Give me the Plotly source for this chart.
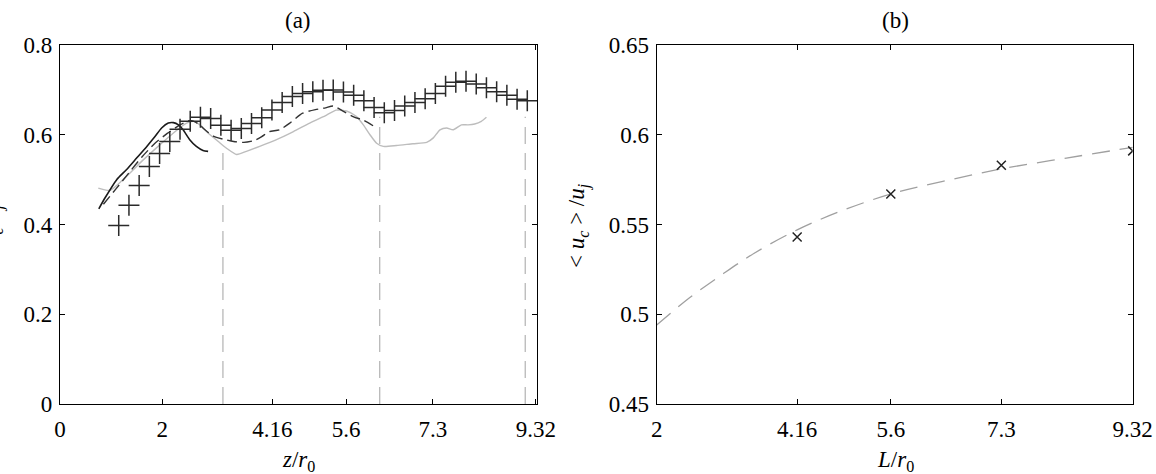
import plotly.graph_objects as go

# ---------------- data: panel (a) ----------------
plus_z = [1.15, 1.35, 1.55, 1.75, 1.95, 2.15, 2.35, 2.55, 2.75, 2.95, 3.15, 3.35, 3.55, 3.75,
          3.95, 4.15, 4.35, 4.55, 4.75, 4.95, 5.15, 5.35, 5.55, 5.75, 5.95, 6.15, 6.35, 6.55,
          6.75, 6.95, 7.15, 7.35, 7.55, 7.75, 7.95, 8.15, 8.35, 8.55, 8.75, 8.95, 9.15]
plus_u = [0.398, 0.443, 0.487, 0.529, 0.558, 0.585, 0.612, 0.630, 0.639, 0.636, 0.621, 0.610,
          0.614, 0.625, 0.638, 0.655, 0.672, 0.685, 0.692, 0.696, 0.699, 0.700, 0.695, 0.688,
          0.676, 0.661, 0.649, 0.654, 0.664, 0.672, 0.680, 0.692, 0.708, 0.717, 0.719, 0.713,
          0.705, 0.696, 0.688, 0.679, 0.676]

solid_z = [0.76, 0.88, 1.11, 1.30, 1.50, 1.70, 1.86, 1.99, 2.12, 2.22, 2.32, 2.41, 2.54, 2.67, 2.80, 2.90]
solid_u = [0.435, 0.459, 0.500, 0.522, 0.548, 0.574, 0.596, 0.615, 0.626, 0.627, 0.622, 0.611,
           0.589, 0.574, 0.565, 0.563]

dash_z = [0.85, 1.10, 1.35, 1.60, 1.85, 2.10, 2.35, 2.55, 2.70, 2.85, 3.00, 3.20, 3.40, 3.60,
          3.80, 3.95, 4.10, 4.30, 4.50, 4.75, 5.00, 5.20, 5.35, 5.55, 5.75, 5.95, 6.13]
dash_u = [0.445, 0.480, 0.515, 0.550, 0.580, 0.603, 0.622, 0.632, 0.625, 0.610, 0.597, 0.590,
          0.585, 0.583, 0.587, 0.596, 0.607, 0.611, 0.626, 0.648, 0.656, 0.660, 0.664, 0.652,
          0.640, 0.632, 0.620]

gray_z = [0.75, 0.98, 1.30, 1.63, 1.96, 2.22, 2.48, 2.61, 2.74, 2.90, 3.10, 3.26, 3.46, 3.65,
          3.91, 4.24, 4.57, 4.89, 5.22, 5.41, 5.61, 5.80, 5.94, 6.07, 6.20, 6.33, 6.59, 6.91,
          7.18, 7.31, 7.44, 7.57, 7.70, 7.86, 7.99, 8.12, 8.25, 8.35]
gray_u = [0.481, 0.476, 0.507, 0.544, 0.578, 0.604, 0.626, 0.630, 0.622, 0.604, 0.585, 0.570,
          0.556, 0.563, 0.574, 0.589, 0.607, 0.626, 0.644, 0.655, 0.653, 0.641, 0.622, 0.600,
          0.581, 0.574, 0.576, 0.580, 0.583, 0.593, 0.611, 0.615, 0.611, 0.622, 0.622, 0.624,
          0.630, 0.639]

vline_z = [3.19, 6.26, 9.11]
vline_top = [0.567, 0.640, 0.640]

ticks_a_x = [0, 2, 4.16, 5.6, 7.3, 9.32]
ticks_a_xlab = ["0", "2", "4.16", "5.6", "7.3", "9.32"]
ticks_a_y = [0, 0.2, 0.4, 0.6, 0.8]
ticks_a_ylab = ["0", "0.2", "0.4", "0.6", "0.8"]

# ---------------- data: panel (b) ----------------
L_pts = [4.16, 5.6, 7.3, 9.32]
uc_pts = [0.543, 0.567, 0.583, 0.591]

fit_L = [2.0, 2.5, 3.0, 3.5, 4.16, 4.8, 5.6, 6.4, 7.3, 8.3, 9.32]
fit_u = [0.494, 0.509, 0.522, 0.534, 0.547, 0.557, 0.567, 0.574, 0.581, 0.587, 0.593]

ticks_b_x = [2, 4.16, 5.6, 7.3, 9.32]
ticks_b_xlab = ["2", "4.16", "5.6", "7.3", "9.32"]
ticks_b_y = [0.45, 0.5, 0.55, 0.6, 0.65]
ticks_b_ylab = ["0.45", "0.5", "0.55", "0.6", "0.65"]

# ---------------- figure ----------------
W, H = 1156, 474
FONT = "Liberation Serif"
FS = 23

fig = go.Figure()

# vertical dashed guide lines (panel a)
vx, vy = [], []
for z, top in zip(vline_z, vline_top):
    vx += [z, z, None]
    vy += [0, top, None]
fig.add_trace(go.Scatter(x=vx, y=vy, mode="lines", xaxis="x", yaxis="y",
                         line=dict(color="#b8b8b8", width=1.3, dash="17px,9px"),
                         showlegend=False, hoverinfo="skip"))

fig.add_trace(go.Scatter(x=gray_z, y=gray_u, mode="lines", xaxis="x", yaxis="y",
                         line=dict(color="#bdbdbd", width=1.4, shape="spline", smoothing=0.6),
                         showlegend=False))
fig.add_trace(go.Scatter(x=dash_z, y=dash_u, mode="lines", xaxis="x", yaxis="y",
                         line=dict(color="#333333", width=1.4, dash="10px,5px", shape="spline", smoothing=0.6),
                         showlegend=False))
fig.add_trace(go.Scatter(x=solid_z, y=solid_u, mode="lines", xaxis="x", yaxis="y",
                         line=dict(color="#1a1a1a", width=1.6, shape="spline", smoothing=0.6),
                         showlegend=False))
fig.add_trace(go.Scatter(x=plus_z, y=plus_u, mode="markers", xaxis="x", yaxis="y",
                         marker=dict(symbol="cross-thin", size=15,
                                     line=dict(color="#2a2a2a", width=1.5)),
                         showlegend=False))

# panel b
fig.add_trace(go.Scatter(x=fit_L, y=fit_u, mode="lines", xaxis="x2", yaxis="y2",
                         line=dict(color="#a0a0a0", width=1.3, dash="18px,10px", shape="spline"),
                         showlegend=False))
fig.add_trace(go.Scatter(x=L_pts, y=uc_pts, mode="markers", xaxis="x2", yaxis="y2",
                         marker=dict(symbol="x-thin", size=9,
                                     line=dict(color="#222222", width=1.5)),
                         showlegend=False))

ax_common = dict(showgrid=False, zeroline=False, showline=True, linecolor="black", linewidth=1.4,
                 mirror="allticks", ticks="inside", ticklen=5, tickwidth=1.2, tickcolor="black",
                 tickfont=dict(family=FONT, size=FS, color="black"), automargin=False)

x0a, x1a = 60 / W, 537 / W
x0b, x1b = 656.7 / W, 1132.7 / W
y0d, y1d = 1 - 404 / H, 1 - 45 / H

fig.update_layout(
    width=W, height=H,
    margin=dict(l=0, r=0, t=0, b=0),
    paper_bgcolor="white", plot_bgcolor="white",
    font=dict(family=FONT, size=FS, color="black"),
    xaxis=dict(domain=[x0a, x1a], range=[0, 9.34], tickmode="array", ticklabelstandoff=4,
               tickvals=ticks_a_x, ticktext=ticks_a_xlab, anchor="y", **ax_common),
    yaxis=dict(domain=[y0d, y1d], range=[0, 0.8], tickmode="array", ticklabelstandoff=2,
               tickvals=ticks_a_y, ticktext=ticks_a_ylab, anchor="x", **ax_common),
    xaxis2=dict(domain=[x0b, x1b], range=[2, 9.32], tickmode="array", ticklabelstandoff=4,
                tickvals=ticks_b_x, ticktext=ticks_b_xlab, anchor="y2", **ax_common),
    yaxis2=dict(domain=[y0d, y1d], range=[0.45, 0.65], tickmode="array", ticklabelstandoff=2,
                tickvals=ticks_b_y, ticktext=ticks_b_ylab, anchor="x2", **ax_common),
)

def px_x(p):
    return p / W

def px_y(p):
    return 1 - p / H

ann = [
    dict(text="(a)", x=px_x(298), y=px_y(20), xanchor="center", yanchor="middle"),
    dict(text="(b)", x=px_x(895), y=px_y(20), xanchor="center", yanchor="middle"),
    dict(text="<i>z</i>/<i>r</i><sub>0</sub>", x=px_x(298), y=px_y(461), xanchor="center", yanchor="middle"),
    dict(text="<i>L</i>/<i>r</i><sub>0</sub>", x=px_x(895), y=px_y(461), xanchor="center", yanchor="middle"),
    dict(text="&lt; <i>u<sub>c</sub></i> &gt; /<i>u<sub>j</sub></i>", x=px_x(579), y=px_y(226),
         xanchor="center", yanchor="middle", textangle=-90),
    dict(text="<i>u<sub>c</sub></i>/<i>u<sub>j</sub></i>", x=px_x(-8), y=px_y(225),
         xanchor="center", yanchor="middle", textangle=-90),
]
for a in ann:
    a.update(xref="paper", yref="paper", showarrow=False,
             font=dict(family=FONT, size=FS, color="black"))
fig.update_layout(annotations=ann)

fig.write_html("out.html")
